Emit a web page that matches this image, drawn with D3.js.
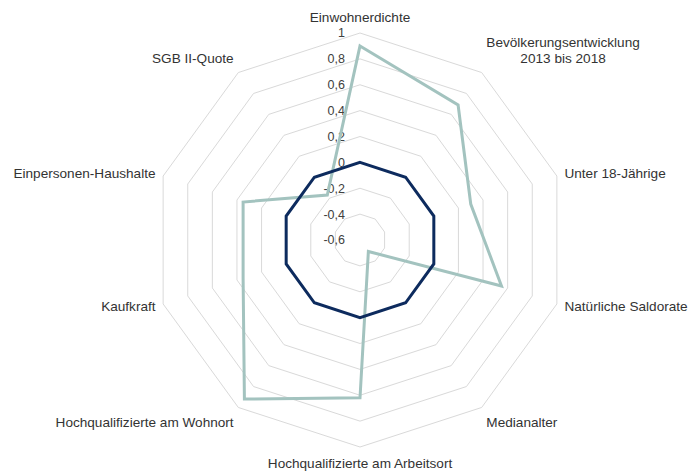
<!DOCTYPE html>
<html>
<head>
<meta charset="utf-8">
<script src="https://cdn.jsdelivr.net/npm/d3@7"></script>
<style>
html,body{margin:0;padding:0;background:#fff;}
text{font-family:"Liberation Sans",Arial,sans-serif;}
</style>
</head>
<body>
<svg id="chart" width="691" height="475"></svg>
<script>
const categories = ["Einwohnerdichte", "Bevölkerungsentwicklung\n2013 bis 2018", "Unter 18-Jährige", "Natürliche Saldorate", "Medianalter", "Hochqualifizierte am Arbeitsort", "Hochqualifizierte am Wohnort", "Kaufkraft", "Einpersonen-Haushalte", "SGB II-Quote"];
const regionValues = [0.90, 0.69, 0.30, 0.55, -0.49, 0.62, 0.92, 0.35, 0.35, -0.17];
const referenceValues = [0, 0, 0, 0, 0, 0, 0, 0, 0, 0];
const tickValues = [-0.4, -0.2, 0, 0.2, 0.4, 0.6, 0.8, 1];
const tickLabels = ["-0,6", "-0,4", "-0,2", "0", "0,2", "0,4", "0,6", "0,8", "1"];
const domainMin = -0.6, domainMax = 1;

const svg = d3.select("#chart");
const cx = 360, cy = 240, R = 207;
const r = d3.scaleLinear().domain([domainMin, domainMax]).range([0, R]);
const n = categories.length;
const angle = d3.scaleLinear().domain([0, n]).range([0, 2 * Math.PI]);
const g = svg.append("g").attr("transform", `translate(${cx},${cy})`);

const pt = (i, v) => {
  const a = angle(i);
  return [Math.sin(a) * r(v), -Math.cos(a) * r(v)];
};

// grid rings
tickValues.forEach(t => {
  g.append("path")
    .attr("d", d3.line()(d3.range(n).map(i => pt(i, t))) + "Z")
    .attr("fill", "none")
    .attr("stroke", "#d9d9d9")
    .attr("stroke-width", 1);
});

// tick labels
const allTicks = [domainMin].concat(tickValues);
allTicks.forEach((t, k) => {
  g.append("text")
    .attr("x", -15)
    .attr("y", -r(t))
    .attr("dy", "0.35em")
    .attr("text-anchor", "end")
    .attr("font-size", 12.5)
    .attr("fill", "#404040")
    .text(tickLabels[k]);
});

// series
const lineGen = d3.line().curve(d3.curveLinearClosed);
g.append("path")
  .attr("d", lineGen(regionValues.map((v, i) => pt(i, v))))
  .attr("fill", "none")
  .attr("stroke", "#a3c3bf")
  .attr("stroke-width", 3)
  .attr("stroke-linejoin", "miter");
g.append("path")
  .attr("d", lineGen(referenceValues.map((v, i) => pt(i, v))))
  .attr("fill", "none")
  .attr("stroke", "#0d2b5e")
  .attr("stroke-width", 3)
  .attr("stroke-linejoin", "miter");

// category labels
const LR = 215, lineH = 16, fs = 13.6;
categories.forEach((c, i) => {
  const a = angle(i);
  const s = Math.sin(a), co = Math.cos(a);
  const x = s * LR, y = -co * LR;
  const lines = c.split("\n");
  const t = g.append("text").attr("font-size", fs).attr("fill", "#333");
  const tsp = lines.map(l => t.append("tspan").text(l));
  const widths = tsp.map(ts => ts.node().getComputedTextLength());
  const W = d3.max(widths);
  const H = lines.length * lineH;
  let left;
  if (s > 0.1) left = x; else if (s < -0.1) left = x - W; else left = x - W / 2;
  let top;
  if (co > 0.5) top = y - H; else if (co < -0.5) top = y; else top = y - H / 2;
  tsp.forEach((ts, k) => {
    ts.attr("x", left + W / 2)
      .attr("y", top + lineH * k + lineH / 2)
      .attr("dy", "0.35em")
      .attr("text-anchor", "middle");
  });
});
</script>
</body>
</html>
